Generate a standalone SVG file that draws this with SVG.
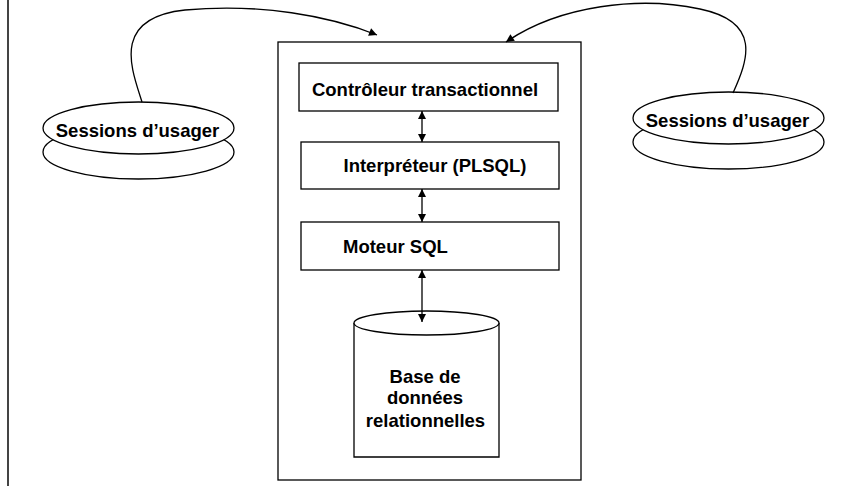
<svg xmlns="http://www.w3.org/2000/svg" width="858" height="486" viewBox="0 0 858 486">
<defs>
<marker id="ah" viewBox="0 0 10 10" refX="10" refY="5" markerWidth="9" markerHeight="8" markerUnits="userSpaceOnUse" orient="auto-start-reverse">
<path d="M0,0 L10,5 L0,10 z" fill="#000"/>
</marker>
<style>
.s{fill:#fff;stroke:#000;stroke-width:1.3}
.t{font-family:"Liberation Sans",Arial,sans-serif;font-weight:bold;font-size:18.5px;fill:#000}
.c{fill:none;stroke:#000;stroke-width:1.3}
</style>
</defs>
<rect width="858" height="486" fill="#fff"/>
<line x1="8" y1="0" x2="8" y2="486" stroke="#444" stroke-width="2"/>
<g id="server">
<rect class="s" x="278" y="42" width="303" height="438"/>
</g>
<g id="controleur">
<rect class="s" x="299" y="63" width="259" height="48"/>
<text class="t" x="425" y="96" text-anchor="middle">Contrôleur transactionnel</text>
</g>
<g id="interpreteur">
<rect class="s" x="301" y="142" width="258" height="47"/>
<text class="t" x="435" y="172" text-anchor="middle">Interpréteur (PLSQL)</text>
</g>
<g id="moteur">
<rect class="s" x="301" y="222" width="258" height="48"/>
<text class="t" x="343" y="253">Moteur SQL</text>
</g>
<g id="bd">
<path class="s" d="M354,323 L354,457 L499,457 L499,323"/>
<ellipse class="s" cx="426.5" cy="323" rx="72.5" ry="12"/>
<text class="t" x="425" y="383" text-anchor="middle">Base de</text>
<text class="t" x="425" y="404" text-anchor="middle">données</text>
<text class="t" x="425.5" y="427" text-anchor="middle">relationnelles</text>
</g>
<g id="sessions-gauche">
<ellipse class="s" cx="138.5" cy="152" rx="95.5" ry="27"/>
<ellipse class="s" cx="138.5" cy="128" rx="95.5" ry="26"/>
<text class="t" x="137.5" y="137" text-anchor="middle">Sessions d’usager</text>
</g>
<g id="sessions-droite">
<ellipse class="s" cx="728.5" cy="142" rx="95.5" ry="27"/>
<ellipse class="s" cx="728.5" cy="118" rx="95.5" ry="26"/>
<text class="t" x="727.5" y="127" text-anchor="middle">Sessions d’usager</text>
</g>
<g id="connecteurs">
<path class="c" d="M142,102 C132,70 110,18 185,10 C260,3 330,16 377,35" marker-end="url(#ah)"/>
<path class="c" d="M733,93 C748,60 762,22 700,9 C640,-4 560,5 506,42" marker-end="url(#ah)"/>
<line class="c" x1="422" y1="111" x2="422" y2="142" marker-start="url(#ah)" marker-end="url(#ah)"/>
<line class="c" x1="422" y1="189" x2="422" y2="222" marker-start="url(#ah)" marker-end="url(#ah)"/>
<line class="c" x1="422" y1="270" x2="422" y2="322" marker-start="url(#ah)" marker-end="url(#ah)"/>
</g>
</svg>
